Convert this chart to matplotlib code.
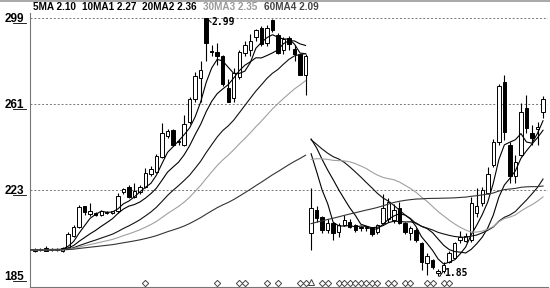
import matplotlib
matplotlib.use("Agg")
import matplotlib.pyplot as plt
import matplotlib.transforms as mtransforms
from matplotlib.lines import Line2D
import pandas as pd

# daily candles, gap (ex-rights) at index 50
opens = [1.962, 1.965, 1.975, 1.963, 1.968, 1.962, 1.975, 2.025, 2.065, 2.158,
         2.125, 2.126, 2.120, 2.128, 2.130, 2.135, 2.220, 2.245, 2.200, 2.220,
         2.245, 2.300, 2.310, 2.375, 2.470, 2.495, 2.440, 2.430, 2.530, 2.630,
         2.725, 2.990, 2.845, 2.840, 2.820, 2.680, 2.635, 2.730, 2.835, 2.850,
         2.905, 2.945, 2.880, 2.980, 2.915, 2.850, 2.900, 2.855, 2.830, 2.740,
         2.040, 2.140, 2.110, 2.053, 2.085, 2.045, 2.075, 2.090, 2.075, 2.066,
         2.060, 2.060, 2.045, 2.085, 2.100, 2.095, 2.150, 2.085, 2.040, 2.053,
         1.996, 1.907, 1.920, 1.862, 1.870, 1.910, 1.930, 2.010, 2.005, 2.010,
         2.130, 2.172, 2.217, 2.340, 2.440, 2.707, 2.430, 2.290, 2.385, 2.592,
         2.480, 2.500, 2.575]
highs = [1.972, 1.975, 1.980, 1.975, 1.972, 1.978, 2.045, 2.075, 2.165, 2.160,
         2.172, 2.132, 2.140, 2.138, 2.138, 2.215, 2.240, 2.250, 2.262, 2.250,
         2.325, 2.335, 2.390, 2.525, 2.500, 2.500, 2.455, 2.560, 2.640, 2.750,
         2.800, 2.990, 2.870, 2.880, 2.825, 2.720, 2.770, 2.850, 2.890, 2.920,
         2.940, 2.955, 2.960, 2.985, 2.925, 2.905, 2.910, 2.870, 2.830, 2.830,
         2.240, 2.160, 2.115, 2.100, 2.090, 2.085, 2.120, 2.100, 2.080, 2.072,
         2.070, 2.065, 2.080, 2.210, 2.195, 2.170, 2.175, 2.090, 2.070, 2.060,
         2.000, 1.950, 1.925, 1.880, 1.910, 1.960, 2.000, 2.050, 2.040, 2.200,
         2.240, 2.245, 2.330, 2.455, 2.700, 2.740, 2.440, 2.385, 2.615, 2.650,
         2.515, 2.530, 2.645]
lows = [1.955, 1.958, 1.960, 1.958, 1.958, 1.955, 1.970, 2.020, 2.060, 2.120,
        2.115, 2.115, 2.115, 2.122, 2.125, 2.130, 2.210, 2.195, 2.195, 2.210,
        2.240, 2.290, 2.305, 2.370, 2.460, 2.425, 2.430, 2.425, 2.520, 2.620,
        2.620, 2.800, 2.820, 2.780, 2.690, 2.620, 2.620, 2.720, 2.820, 2.820,
        2.890, 2.865, 2.865, 2.930, 2.830, 2.830, 2.850, 2.800, 2.740, 2.650,
        1.965, 2.090, 2.040, 2.040, 2.010, 2.020, 2.070, 2.060, 2.045, 2.050,
        2.050, 2.025, 2.035, 2.080, 2.090, 2.085, 2.080, 2.035, 2.010, 2.000,
        1.876, 1.854, 1.880, 1.850, 1.862, 1.905, 1.925, 1.995, 2.000, 2.000,
        2.110, 2.160, 2.210, 2.330, 2.430, 2.450, 2.260, 2.260, 2.380, 2.480,
        2.430, 2.430, 2.550]
closes = [1.968, 1.970, 1.962, 1.970, 1.966, 1.972, 2.035, 2.068, 2.155, 2.132,
          2.135, 2.120, 2.138, 2.132, 2.135, 2.205, 2.232, 2.200, 2.225, 2.245,
          2.305, 2.322, 2.380, 2.480, 2.492, 2.430, 2.448, 2.520, 2.630, 2.735,
          2.760, 2.880, 2.840, 2.820, 2.700, 2.620, 2.745, 2.840, 2.870, 2.890,
          2.935, 2.875, 2.945, 2.935, 2.835, 2.895, 2.875, 2.830, 2.740, 2.820,
          2.150, 2.106, 2.053, 2.085, 2.040, 2.075, 2.097, 2.068, 2.053, 2.060,
          2.066, 2.035, 2.075, 2.150, 2.175, 2.140, 2.085, 2.045, 2.062, 2.010,
          1.912, 1.940, 1.890, 1.872, 1.900, 1.950, 1.995, 2.020, 2.025, 2.172,
          2.160, 2.230, 2.300, 2.440, 2.690, 2.486, 2.290, 2.354, 2.575, 2.504,
          2.460, 2.510, 2.630]

gap_index = 50          # first candle after the ex-rights gap
prior_close = 1.965     # flat level before the window (where the MAs start)
adj_factor = 0.87       # price adjustment used for MAs after the gap

ma_periods = [5, 10, 20, 30, 60]
ma_labels = ["5MA", "10MA1", "20MA2", "30MA3", "60MA4"]
ma_values = ["2.10", "2.27", "2.36", "2.35", "2.09"]
ma_colors = ["#000000", "#000000", "#111111", "#a0a0a0", "#333333"]
legend_colors = ["#000000", "#000000", "#000000", "#9a9a9a", "#444444"]

signal_days = [20, 33, 37, 38, 42, 44, 48, 49, 52, 53, 55, 56, 57, 58, 59, 60,
               61, 62, 64, 65, 67, 68, 71, 72, 74, 75]
triangle_day = 50

grid_levels = [2.99, 2.61, 2.23]
y_ticks = [2.99, 2.61, 2.23, 1.85]
y_ticklabels = ["299", "261", "223", "185"]

W, H = 550, 288
fig = plt.figure(figsize=(W / 100, H / 100), dpi=100)
ax = fig.add_axes([30 / W, 1 / H, 518 / W, 274 / H])
ax.set_xlim(-0.9, 92.9)
ax.set_ylim(1.801, 3.012)

n = len(closes)
xs = list(range(n))

# moving averages: before the gap on raw closes, after it on adjusted closes
pad = 60
prior = pd.Series([prior_close] * pad)
pre = pd.Series(closes[:gap_index])
post = pd.Series(closes[gap_index:])
series_pre = pd.concat([prior, pre], ignore_index=True)
series_post = pd.concat([prior * adj_factor, pre * adj_factor, post], ignore_index=True)

for period, col in zip(ma_periods, ma_colors):
    ma_a = series_pre.rolling(period).mean().iloc[pad - 2:].tolist()
    ax.plot(range(-2, gap_index), ma_a, color=col, lw=0.8, zorder=4)
    ma_b = series_post.rolling(period).mean().iloc[pad + gap_index:].tolist()
    ax.plot(range(gap_index, n), ma_b, color=col, lw=0.8, zorder=4)

# candles
up = [c >= o for o, c in zip(opens, closes)]
ax.vlines(xs, lows, highs, color="black", lw=0.8, zorder=2)
bottoms = [min(o, c) for o, c in zip(opens, closes)]
heights = [max(abs(c - o), 0.002) for o, c in zip(opens, closes)]
faces = ["white" if u else "black" for u in up]
ax.bar(xs, heights, bottom=bottoms, width=0.62, color=faces,
       edgecolor="black", linewidth=0.7, zorder=3)

# grid
for lv in grid_levels:
    ax.axhline(lv, color="#777777", lw=0.7, ls=(0, (2, 2)), zorder=1)

# signal markers along the bottom
trans = mtransforms.blended_transform_factory(ax.transData, ax.transAxes)
ax.plot(signal_days, [0.016] * len(signal_days), ls="none", marker="D",
        ms=3.2, mfc="white", mec="#444444", mew=0.7, transform=trans, zorder=5)
ax.plot([triangle_day], [0.02], ls="none", marker="^", ms=5, mfc="white",
        mec="#444444", mew=0.7, transform=trans, zorder=5)

# high / low notes
hi_i = highs.index(max(highs))
lo_i = lows.index(min(lows))
ax.plot([hi_i + 0.3, hi_i + 0.9], [max(highs) - 0.005, max(highs) - 0.02],
        color="black", lw=0.7, zorder=5)
ax.text(hi_i + 0.9, max(highs) - 0.017, "%.2f" % max(highs), family="DejaVu Sans Mono",
        fontsize=7, fontweight="bold", va="center", ha="left", zorder=6)
ax.plot([lo_i + 0.3, lo_i + 0.9], [min(lows) - 0.002, min(lows) + 0.02],
        color="black", lw=0.7, zorder=5)
ax.text(lo_i + 1.0, min(lows) + 0.015, "%.2f" % min(lows), family="DejaVu Sans Mono",
        fontsize=7, fontweight="bold", va="center", ha="left", zorder=6)

# axes styling
for side in ["top", "right"]:
    ax.spines[side].set_visible(False)
ax.spines["left"].set_color("#777777")
ax.spines["bottom"].set_color("#777777")
ax.set_xticks([])
ax.set_yticks(y_ticks)
ax.set_yticklabels(y_ticklabels, family="Liberation Sans", fontweight="bold", fontsize=8.5)
ax.tick_params(axis="y", length=0, pad=4)

# underline the decimal part of the y labels
for lv in y_ticks:
    py = ax.transData.transform((0, lv))[1] / H
    fig.add_artist(Line2D([13 / W, 26 / W], [py - 5 / H, py - 5 / H],
                          color="black", lw=0.6))

# legend row
x_pos = 33
for lab, val, col in zip(ma_labels, ma_values, legend_colors):
    t = fig.text(x_pos / W, 1 - 7 / H, lab + " " + val, family="Liberation Sans",
                 fontweight="bold", fontsize=7.2, color=col, va="center", ha="left")
    fig.canvas.draw()
    bb = t.get_window_extent()
    x_pos = bb.x1 + 6

fig.add_artist(Line2D([0, 1], [1 - 0.5 / H, 1 - 0.5 / H], color="#999999", lw=1.2))

fig.savefig("out.png", dpi=100)
